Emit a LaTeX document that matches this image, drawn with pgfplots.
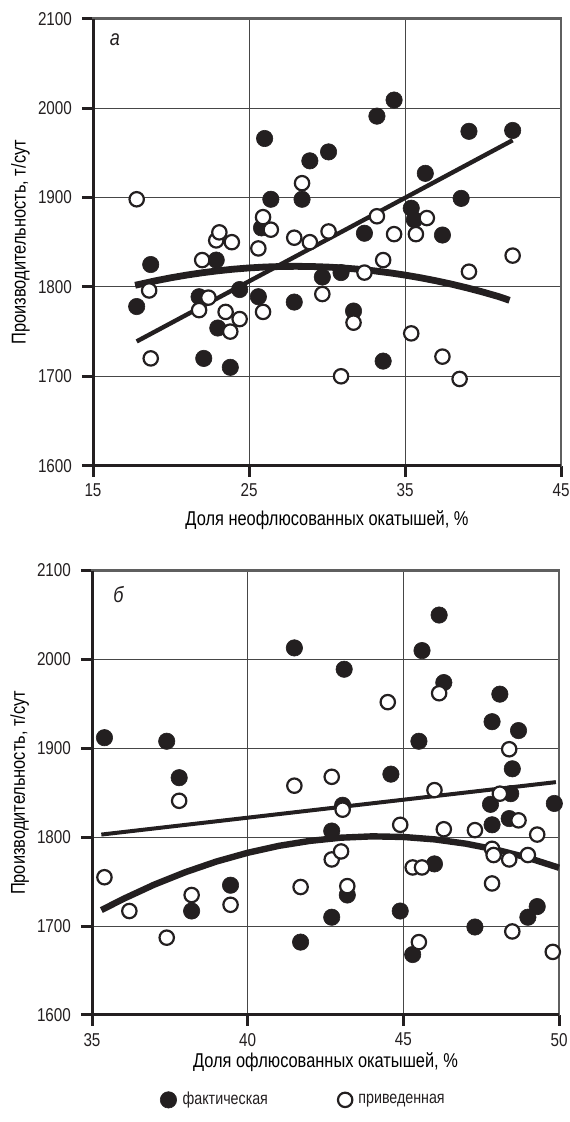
\documentclass[border=0pt]{standalone}
\usepackage{fontspec}
\setmainfont{Liberation Sans}[FakeStretch=0.82]
\usepackage{pgfplots}
\pgfplotsset{compat=1.18}
\usepackage{pgfplotstable}

\definecolor{ink}{RGB}{35,31,32}
\definecolor{gridgray}{RGB}{70,70,70}
\definecolor{boxgray}{RGB}{95,95,95}

% panel a
\pgfplotstableread{
x y
17.8 1778
18.7 1825
21.8 1789
22.1 1720
22.9 1830
23.0 1754
23.8 1710
24.4 1797
25.6 1789
25.8 1866
26.0 1966
26.4 1898
27.9 1783
28.4 1898
28.9 1941
29.7 1811
30.1 1951
30.9 1816
31.7 1773
32.4 1860
33.2 1991
33.6 1717
34.3 2009
35.4 1888
35.6 1875
36.3 1927
37.4 1858
38.6 1899
39.1 1974
41.9 1975
}\faktA
\pgfplotstableread{
x y
17.8 1898
18.6 1796
18.7 1720
21.8 1774
22.0 1830
22.4 1788
22.9 1852
23.1 1861
23.5 1772
23.8 1750
23.9 1850
24.4 1764
25.6 1843
25.9 1878
25.9 1772
26.4 1864
27.9 1855
28.4 1916
28.9 1850
29.7 1792
30.1 1862
30.9 1700
31.7 1760
32.4 1816
33.2 1879
33.6 1830
34.3 1859
35.4 1748
35.7 1859
36.4 1877
37.4 1722
38.5 1697
39.1 1817
41.9 1835
}\privA
\pgfplotstableread{
x y
17.8 1739
41.9 1964
}\linA
\pgfplotstableread{
x y
17.7 1801.8
19 1806.8
20 1810.2
21 1813.2
22 1815.8
23 1818.0
24 1819.8
25 1821.2
26 1822.2
27 1822.8
28 1823.0
29 1822.8
30 1822.2
31 1821.2
32 1819.8
33 1818.0
34 1815.8
35 1813.2
36 1810.2
37 1806.8
38 1803.0
39 1798.8
40 1794.2
41 1789.2
41.7 1785.0
}\polyA

% panel b
\pgfplotstableread{
x y
35.4 1912
37.4 1908
37.8 1867
38.2 1717
39.45 1746
41.5 2013
41.7 1682
42.7 1807
42.7 1710
43.05 1836
43.1 1989
43.2 1735
44.6 1871
44.9 1717
45.3 1668
45.5 1908
45.6 2010
46.0 1770
46.15 2050
46.3 1974
47.3 1699
47.8 1837
47.85 1930
47.85 1814
48.1 1961
48.4 1821
48.45 1849
48.5 1877
48.7 1920
49.0 1710
49.3 1722
49.85 1838
}\faktB
\pgfplotstableread{
x y
35.4 1755
36.2 1717
37.4 1687
37.8 1841
38.2 1735
39.45 1724
41.5 1858
41.7 1744
42.7 1868
42.7 1775
43.0 1784
43.05 1831
43.2 1745
44.5 1952
44.9 1814
45.3 1766
45.5 1682
45.6 1766
46.0 1853
46.15 1962
46.3 1809
47.3 1808
47.85 1787
47.85 1748
47.9 1780
48.1 1849
48.4 1899
48.4 1775
48.5 1694
48.7 1819
49.0 1780
49.3 1803
49.8 1671
}\privB
\pgfplotstableread{
x y
35.3 1803
49.9 1862
}\linB
\pgfplotstableread{
x y
35.3 1718.0
36 1730.5
37 1746.7
38 1760.7
39 1772.7
40 1782.5
41 1790.3
42 1795.9
43 1799.5
44 1801.0
45 1800.3
46 1797.6
47 1792.8
48 1785.9
49 1776.9
50 1765.7
}\polyB

\pgfplotsset{
  panel/.style={
    scale only axis, anchor=south west, clip=false,
    ymin=1600, ymax=2100, ytick={1600,1700,...,2100},
    grid=major, major grid style={gridgray, line width=0.5pt},
    axis line style={boxgray, line width=1.4pt},
    tick align=outside, tick pos=left,
    major tick length=5.5pt,
    tick style={ink, line width=1.5pt},
    /pgf/number format/assume math mode=true,
    /pgf/number format/set thousands separator={},
    ticklabel style={font=\fontsize{9.3}{11}\selectfont, text=ink},
    yticklabel style={xshift=-1.5pt},
    label style={font=\fontsize{9.3}{11}\selectfont, text=ink},
    ylabel={Производительность, т/сут},
    every axis y label/.style={at={(axis description cs:-0.155,0.5)}, rotate=90, anchor=center},
  },
  fakt/.style={only marks, mark=*, mark size=4.1pt,
    mark options={draw=ink, fill=ink, line width=0.3pt}},
  priv/.style={only marks, mark=*, mark size=3.6pt,
    mark options={draw=ink, fill=white, line width=1.1pt}},
}

\begin{document}
\begin{tikzpicture}
\useasboundingbox (0,0) rectangle (284.5pt,561pt);

\begin{axis}[panel, at={(46.5pt,328.15pt)}, width=234pt, height=223.5pt,
  xmin=15, xmax=45, xtick={15,25,35,45},
  xlabel={Доля неофлюсованных окатышей, \%},
  every axis x label/.style={at={(axis description cs:0.5,-0.121)}, anchor=center}]
\addplot[fakt] table {\faktA};
\addplot[priv] table {\privA};
\addplot[no marks, ink, line width=2.2pt] table {\linA};
\addplot[no marks, ink, line width=3.4pt] table {\polyA};
\draw[ink, line width=1.5pt] (rel axis cs:0,1) -- (rel axis cs:0,0) -- (rel axis cs:1,0);
\node[font=\itshape\fontsize{11}{13}\selectfont, text=ink] at (axis cs:16.4,2076) {а};
\end{axis}

\begin{axis}[panel, at={(46pt,53.5pt)}, width=233.5pt, height=222.2pt,
  xmin=35, xmax=50, xtick={35,40,45,50},
  xlabel={Доля офлюсованных окатышей, \%},
  every axis x label/.style={at={(axis description cs:0.5,-0.106)}, anchor=center},
  legend style={at={(axis description cs:0.455,-0.191)}, anchor=center, draw=none,
    font=\fontsize{8.7}{11}\selectfont, text=ink, legend columns=2,
    /tikz/every even column/.append style={column sep=33pt}}]
\addplot[fakt] table {\faktB};
\addlegendentry{\hspace{1pt}фактическая}
\addplot[priv] table {\privB};
\addlegendentry{\hspace{1pt}приведенная}
\addplot[no marks, ink, line width=2pt, forget plot] table {\linB};
\addplot[no marks, ink, line width=3.2pt, forget plot] table {\polyB};
\draw[ink, line width=1.5pt] (rel axis cs:0,1) -- (rel axis cs:0,0) -- (rel axis cs:1,0);
\node[font=\itshape\fontsize{11}{13}\selectfont, text=ink] at (axis cs:35.85,2073) {б};
\end{axis}
\end{tikzpicture}
\end{document}
